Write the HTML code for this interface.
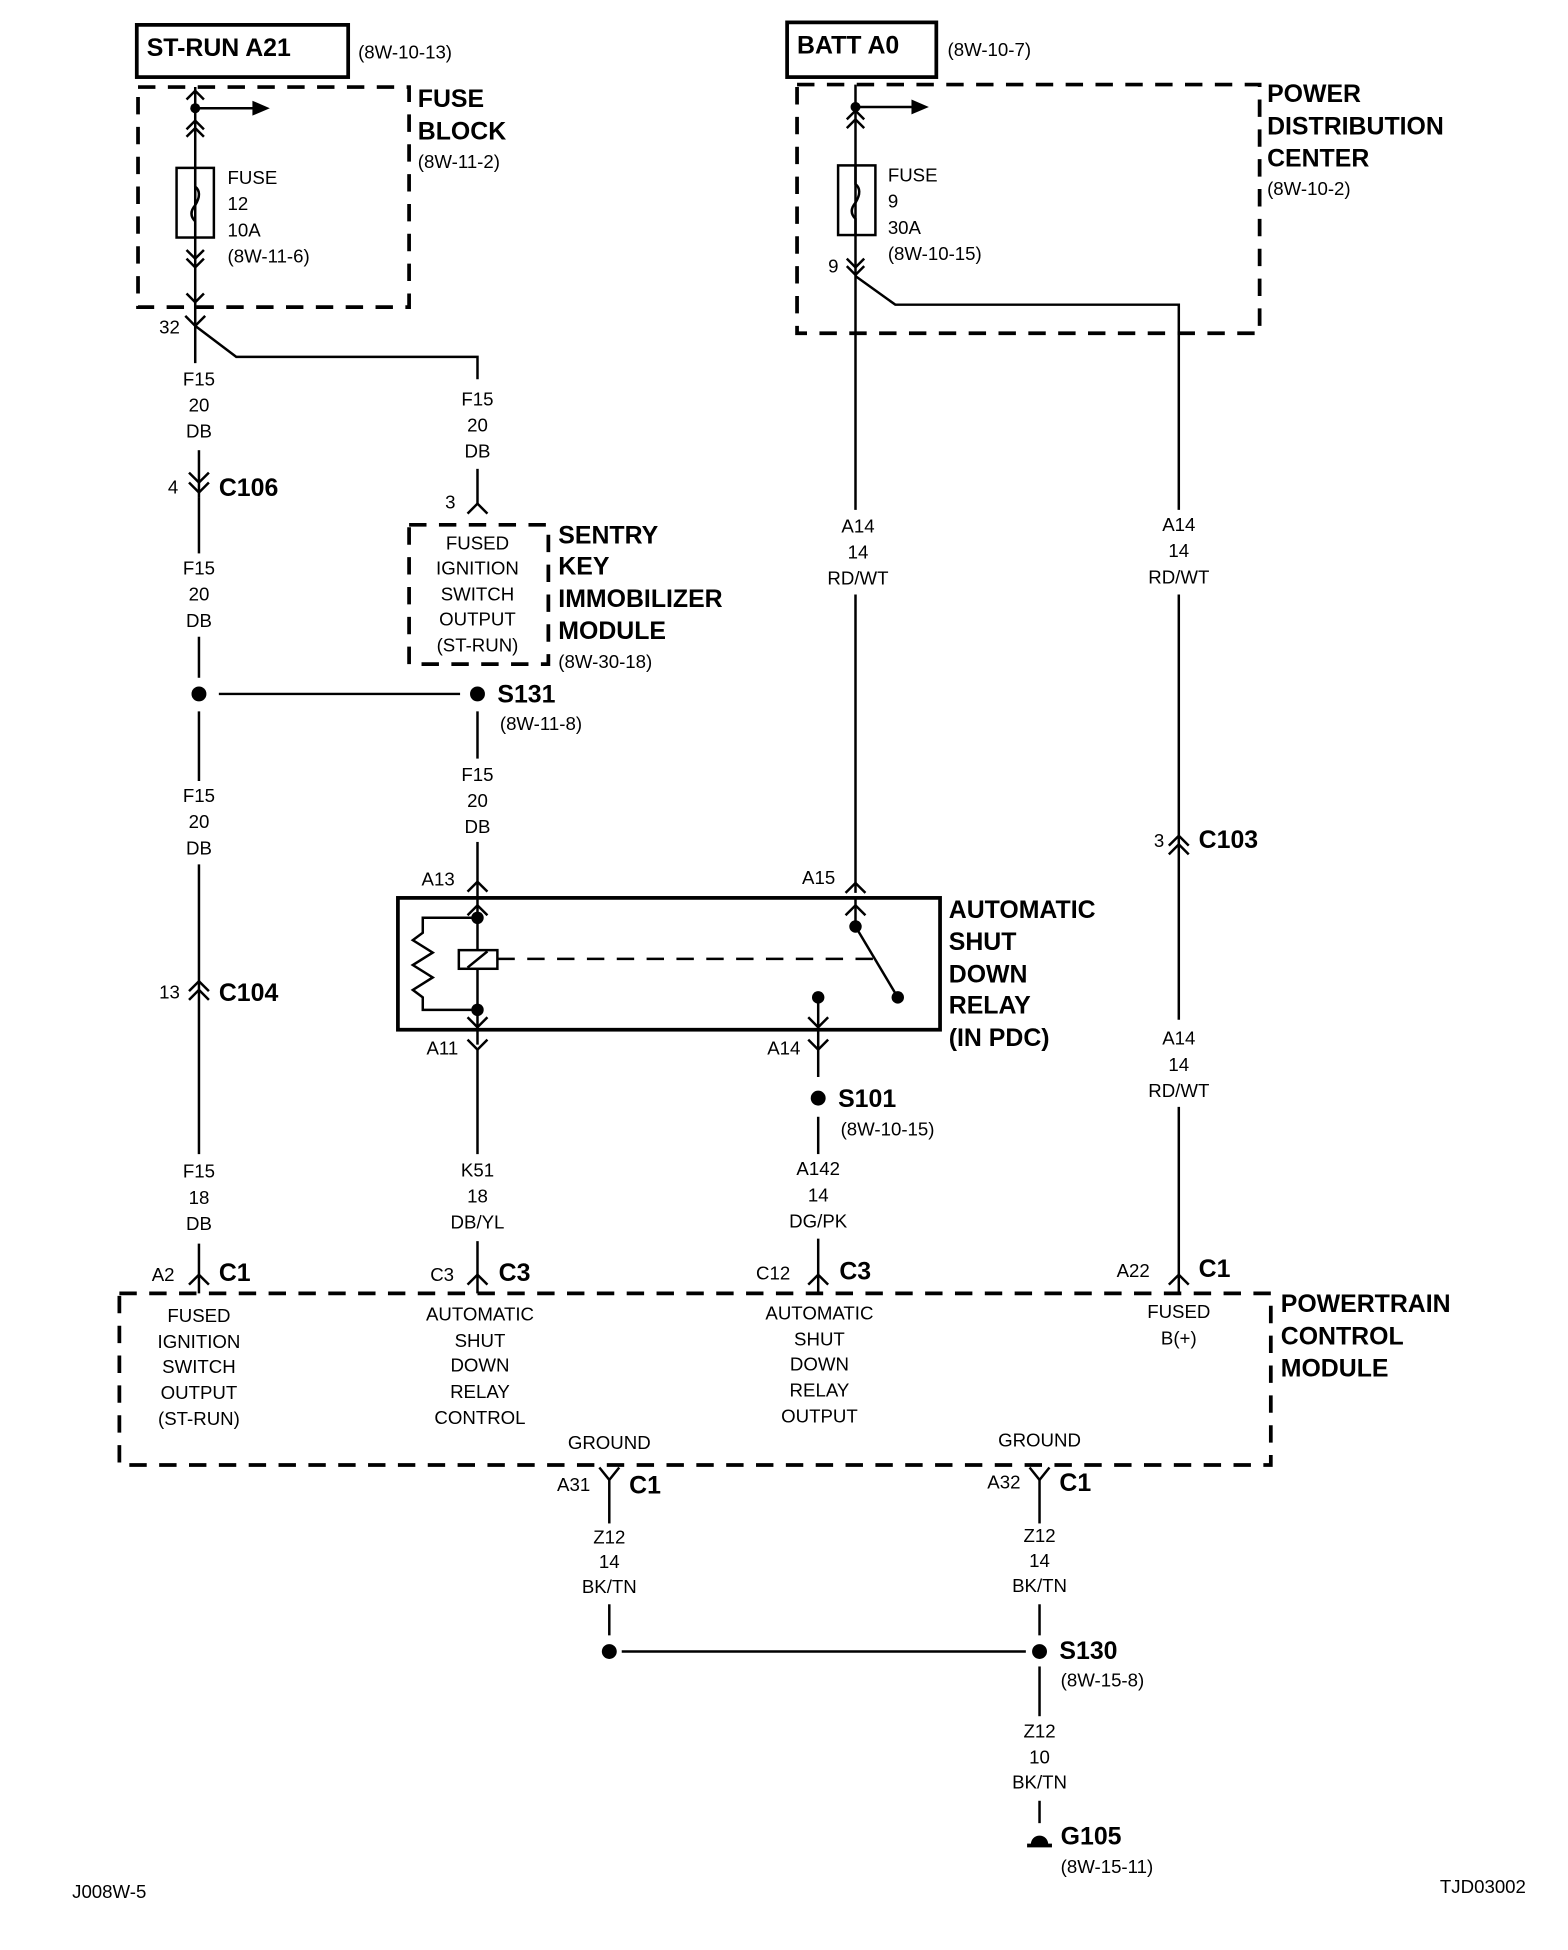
<!DOCTYPE html>
<html><head><meta charset="utf-8"><style>
html,body{margin:0;padding:0;background:#fff}
svg{display:block}
text{font-family:"Liberation Sans",Arial,sans-serif;fill:#000}
.r{font-size:15px}
.b{font-size:20px;font-weight:bold}
.c{text-anchor:middle}
</style></head><body>
<svg width="1568" height="1950" viewBox="0 0 1261 1568" preserveAspectRatio="none" xmlns="http://www.w3.org/2000/svg">
<g fill="none" stroke="#000" stroke-width="2">
<rect x="110" y="20" width="170" height="42" stroke-width="3"/>
<rect x="111" y="70" width="218" height="177" stroke-width="3" stroke-dasharray="14,10"/>
<line x1="157" y1="70" x2="157" y2="262"/>
<line x1="157" y1="87" x2="205" y2="87"/>
<path d="M150,80 L157,73 L164,80 M150,104 L157,97 L164,104 M150,110 L157,103 L164,110"/>
<rect x="142" y="135" width="30" height="56"/>
<path d="M150,201 L157,208 L164,201 M150,208 L157,215 L164,208 M150,236 L157,243 L164,236"/>
<path d="M149,254 L157,262 L165,254"/>
<path d="M157,262 L190,287 L384,287 L384,305"/>
<line x1="157" y1="262" x2="157" y2="292"/>
<line x1="160" y1="362" x2="160" y2="400"/>
<path d="M152,380 L160,388 L168,380 M152,388 L160,396 L168,388"/>
<line x1="160" y1="400" x2="160" y2="445"/>
<line x1="160" y1="512" x2="160" y2="545"/>
<line x1="176" y1="558" x2="370" y2="558"/>
<line x1="160" y1="572" x2="160" y2="628"/>
<line x1="160" y1="695" x2="160" y2="928"/>
<path d="M152,804 L160,796 L168,804 M152,797 L160,789 L168,797"/>
<line x1="160" y1="1000" x2="160" y2="1040"/>
<path d="M152,1033 L160,1025 L168,1033"/>
<line x1="384" y1="377" x2="384" y2="405"/>
<path d="M376,413 L384,405 L392,413"/>
<rect x="329" y="422" width="112" height="112" stroke-width="3" stroke-dasharray="14,10"/>
<line x1="384" y1="572" x2="384" y2="610"/>
<line x1="384" y1="677" x2="384" y2="722"/>
<path d="M376,717 L384,709 L392,717"/>
<rect x="320" y="722" width="436" height="106" stroke-width="3"/>
<line x1="384" y1="722" x2="384" y2="840"/>
<path d="M376,736 L384,728 L392,736 M376,818 L384,826 L392,818"/>
<path d="M384,738 L340,738 L340,750 L332,756 L348,766 L332,776 L348,786 L332,796 L340,802 L340,812 L384,812"/>
<rect x="369" y="764" width="31" height="15" fill="#fff"/>
<line x1="376" y1="778" x2="392" y2="765"/>
<line x1="400" y1="771" x2="705" y2="771" stroke-dasharray="14,10"/>
<line x1="688" y1="722" x2="688" y2="745"/>
<path d="M680,736 L688,728 L696,736"/>
<line x1="688" y1="745" x2="722" y2="802"/>
<line x1="658" y1="802" x2="658" y2="866"/>
<path d="M650,818 L658,826 L666,818"/>
<path d="M376,836 L384,844 L392,836 M650,836 L658,844 L666,836"/>
<line x1="384" y1="844" x2="384" y2="928"/>
<line x1="384" y1="998" x2="384" y2="1040"/>
<path d="M376,1033 L384,1025 L392,1033"/>
<line x1="658" y1="898" x2="658" y2="928"/>
<line x1="658" y1="996" x2="658" y2="1040"/>
<path d="M650,1033 L658,1025 L666,1033"/>
<rect x="633" y="18" width="120" height="44" stroke-width="3"/>
<rect x="641" y="68" width="372" height="200" stroke-width="3" stroke-dasharray="14,10"/>
<line x1="688" y1="68" x2="688" y2="410"/>
<line x1="688" y1="86" x2="735" y2="86"/>
<path d="M681,96 L688,89 L695,96 M681,103 L688,96 L695,103"/>
<rect x="674" y="133" width="30" height="56"/>
<path d="M681,208 L688,215 L695,208 M681,214 L688,221 L695,214"/>
<path d="M688,222 L720,245 L948,245 L948,410"/>
<line x1="688" y1="478" x2="688" y2="718"/>
<path d="M680,718 L688,710 L696,718"/>
<line x1="948" y1="478" x2="948" y2="820"/>
<path d="M940,680 L948,672 L956,680 M940,687 L948,679 L956,687"/>
<line x1="948" y1="890" x2="948" y2="1040"/>
<path d="M940,1033 L948,1025 L956,1033"/>
<rect x="96" y="1040" width="926" height="138" stroke-width="3" stroke-dasharray="14,10"/>
<line x1="490" y1="1190" x2="490" y2="1225"/>
<path d="M482,1180 L490,1190 L498,1180"/>
<line x1="836" y1="1190" x2="836" y2="1225"/>
<path d="M828,1180 L836,1190 L844,1180"/>
<line x1="490" y1="1290" x2="490" y2="1315"/>
<line x1="836" y1="1290" x2="836" y2="1315"/>
<line x1="500" y1="1328" x2="825" y2="1328"/>
<line x1="836" y1="1340" x2="836" y2="1380"/>
<line x1="836" y1="1448" x2="836" y2="1466"/>
<line x1="826" y1="1484" x2="846" y2="1484" stroke-width="3"/>
</g>
<g fill="#000">
<circle cx="157" cy="87" r="4"/><polygon points="203,81 217,87 203,93"/>
<circle cx="688" cy="86" r="4"/><polygon points="733,80 747,86 733,92"/>
<circle cx="160" cy="558" r="6"/><circle cx="384" cy="558" r="6"/>
<circle cx="384" cy="738" r="5"/><circle cx="384" cy="812" r="5"/>
<circle cx="688" cy="745" r="5"/><circle cx="722" cy="802" r="5"/><circle cx="658" cy="802" r="5"/>
<circle cx="658" cy="883" r="6"/>
<circle cx="490" cy="1328" r="6"/><circle cx="836" cy="1328" r="6"/>
<path d="M829,1483 A7,7 0 0 1 843,1483 Z"/>
</g>
<path d="M157,135 L157,150 Q163,155 157,165 Q151,172 157,178 L157,191" fill="none" stroke="#000" stroke-width="2"/>
<path d="M688,133 L688,148 Q694,153 688,163 Q682,170 688,176 L688,189" fill="none" stroke="#000" stroke-width="2"/>

<text class="b" x="118" y="45">ST-RUN A21</text>
<text class="r" x="288" y="47">(8W-10-13)</text>
<text class="b" x="336" y="86">FUSE</text><text class="b" x="336" y="112">BLOCK</text>
<text class="r" x="336" y="135">(8W-11-2)</text>
<text class="r" x="183" y="148">FUSE</text><text class="r" x="183" y="169">12</text>
<text class="r" x="183" y="190">10A</text><text class="r" x="183" y="211">(8W-11-6)</text>
<text class="r" x="128" y="268">32</text>
<text class="r c" x="160" y="310">F15</text><text class="r c" x="160" y="331">20</text><text class="r c" x="160" y="352">DB</text>
<text class="r c" x="384" y="326">F15</text><text class="r c" x="384" y="347">20</text><text class="r c" x="384" y="368">DB</text>
<text class="r c" x="160" y="462">F15</text><text class="r c" x="160" y="483">20</text><text class="r c" x="160" y="504">DB</text>
<text class="r c" x="160" y="645">F15</text><text class="r c" x="160" y="666">20</text><text class="r c" x="160" y="687">DB</text>
<text class="r c" x="384" y="628">F15</text><text class="r c" x="384" y="649">20</text><text class="r c" x="384" y="670">DB</text>
<text class="r c" x="160" y="947">F15</text><text class="r c" x="160" y="968">18</text><text class="r c" x="160" y="989">DB</text>
<text class="r c" x="384" y="946">K51</text><text class="r c" x="384" y="967">18</text><text class="r c" x="384" y="988">DB/YL</text>
<text class="r c" x="658" y="945">A142</text><text class="r c" x="658" y="966">14</text><text class="r c" x="658" y="987">DG/PK</text>
<text class="r c" x="690" y="428">A14</text><text class="r c" x="690" y="449">14</text><text class="r c" x="690" y="470">RD/WT</text>
<text class="r c" x="948" y="427">A14</text><text class="r c" x="948" y="448">14</text><text class="r c" x="948" y="469">RD/WT</text>
<text class="r c" x="948" y="840">A14</text><text class="r c" x="948" y="861">14</text><text class="r c" x="948" y="882">RD/WT</text>
<text class="r c" x="384" y="442">FUSED</text><text class="r c" x="384" y="462">IGNITION</text><text class="r c" x="384" y="483">SWITCH</text><text class="r c" x="384" y="503">OUTPUT</text><text class="r c" x="384" y="524">(ST-RUN)</text>
<text class="r c" x="160" y="1063">FUSED</text><text class="r c" x="160" y="1084">IGNITION</text><text class="r c" x="160" y="1104">SWITCH</text><text class="r c" x="160" y="1125">OUTPUT</text><text class="r c" x="160" y="1146">(ST-RUN)</text>
<text class="r c" x="386" y="1062">AUTOMATIC</text><text class="r c" x="386" y="1083">SHUT</text><text class="r c" x="386" y="1103">DOWN</text><text class="r c" x="386" y="1124">RELAY</text><text class="r c" x="386" y="1145">CONTROL</text>
<text class="r c" x="659" y="1061">AUTOMATIC</text><text class="r c" x="659" y="1082">SHUT</text><text class="r c" x="659" y="1102">DOWN</text><text class="r c" x="659" y="1123">RELAY</text><text class="r c" x="659" y="1144">OUTPUT</text>
<text class="r c" x="948" y="1060">FUSED</text><text class="r c" x="948" y="1081">B(+)</text>
<text class="r c" x="490" y="1165">GROUND</text><text class="r c" x="836" y="1163">GROUND</text>
<text class="r c" x="490" y="1241">Z12</text><text class="r c" x="490" y="1261">14</text><text class="r c" x="490" y="1281">BK/TN</text>
<text class="r c" x="836" y="1240">Z12</text><text class="r c" x="836" y="1260">14</text><text class="r c" x="836" y="1280">BK/TN</text>
<text class="r c" x="836" y="1397">Z12</text><text class="r c" x="836" y="1418">10</text><text class="r c" x="836" y="1438">BK/TN</text>
<text class="r" x="135" y="397">4</text><text class="b" x="176" y="399">C106</text>
<text class="r" x="358" y="409">3</text>
<text class="b" x="449" y="437">SENTRY</text><text class="b" x="449" y="462">KEY</text>
<text class="b" x="449" y="488">IMMOBILIZER</text><text class="b" x="449" y="514">MODULE</text>
<text class="r" x="449" y="537">(8W-30-18)</text>
<text class="b" x="400" y="565">S131</text><text class="r" x="402" y="587">(8W-11-8)</text>
<text class="r" x="339" y="712">A13</text><text class="r" x="645" y="711">A15</text>
<text class="b" x="763" y="738">AUTOMATIC</text><text class="b" x="763" y="764">SHUT</text>
<text class="b" x="763" y="790">DOWN</text><text class="b" x="763" y="815">RELAY</text><text class="b" x="763" y="841">(IN PDC)</text>
<text class="r" x="128" y="803">13</text><text class="b" x="176" y="805">C104</text>
<text class="r" x="343" y="848">A11</text><text class="r" x="617" y="848">A14</text>
<text class="b" x="674" y="890">S101</text><text class="r" x="676" y="913">(8W-10-15)</text>
<text class="r" x="122" y="1030">A2</text><text class="b" x="176" y="1030">C1</text>
<text class="r" x="346" y="1030">C3</text><text class="b" x="401" y="1030">C3</text>
<text class="r" x="608" y="1029">C12</text><text class="b" x="675" y="1029">C3</text>
<text class="r" x="898" y="1027">A22</text><text class="b" x="964" y="1027">C1</text>
<text class="b" x="1030" y="1055">POWERTRAIN</text><text class="b" x="1030" y="1081">CONTROL</text><text class="b" x="1030" y="1107">MODULE</text>
<text class="r" x="448" y="1199">A31</text><text class="b" x="506" y="1201">C1</text>
<text class="r" x="794" y="1197">A32</text><text class="b" x="852" y="1199">C1</text>
<text class="b" x="852" y="1334">S130</text><text class="r" x="853" y="1356">(8W-15-8)</text>
<text class="b" x="853" y="1483">G105</text><text class="r" x="853" y="1506">(8W-15-11)</text>
<text class="b" x="641" y="43">BATT A0</text><text class="r" x="762" y="45">(8W-10-7)</text>
<text class="b" x="1019" y="82">POWER</text><text class="b" x="1019" y="108">DISTRIBUTION</text>
<text class="b" x="1019" y="134">CENTER</text><text class="r" x="1019" y="157">(8W-10-2)</text>
<text class="r" x="714" y="146">FUSE</text><text class="r" x="714" y="167">9</text>
<text class="r" x="714" y="188">30A</text><text class="r" x="714" y="209">(8W-10-15)</text>
<text class="r" x="666" y="219">9</text>
<text class="r" x="928" y="681">3</text><text class="b" x="964" y="682">C103</text>
<text class="r" x="58" y="1526">J008W-5</text>
<text class="r" x="1158" y="1522">TJD03002</text>
</svg>
</body></html>
